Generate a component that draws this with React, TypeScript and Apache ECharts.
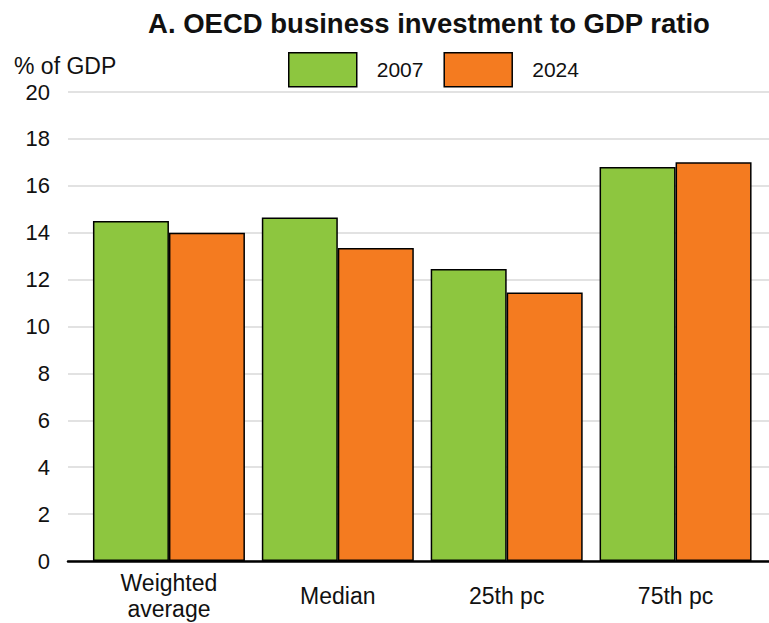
import React, { useEffect, useRef } from "react";
import * as echarts from "echarts";

const categories = ["Weighted\naverage", "Median", "25th pc", "75th pc"];
const series2007 = [14.5, 14.65, 12.45, 16.8];
const series2024 = [14.0, 13.35, 11.45, 17.0];
const seriesNames = ["2007", "2024"];
const yTicks = { min: 0, max: 20, interval: 2 };

const FONT = "'Liberation Sans', Arial, sans-serif";

export default function App() {
  const ref = useRef<HTMLDivElement>(null);
  useEffect(() => {
    if (!ref.current) return;
    const chart = echarts.init(ref.current, null, { renderer: "svg" });
    const top = 92;
    const bottom = 62;
    chart.setOption({
      animation: false,
      backgroundColor: "#ffffff",
      textStyle: { fontFamily: FONT },
      title: [
        {
          text: "A. OECD business investment to GDP ratio",
          left: 424,
          textAlign: "center",
          top: 4,
          textStyle: { fontSize: 27.5, fontWeight: "bold", color: "#111", fontFamily: FONT },
        },
        {
          text: "% of GDP",
          left: 9,
          top: 49,
          textStyle: { fontSize: 23, fontWeight: "normal", color: "#111", fontFamily: FONT },
        },
      ],
      legend: {
        data: seriesNames,
        left: 288,
        top: 52,
        padding: 0,
        itemWidth: 68,
        itemHeight: 34,
        itemGap: 20,
        icon: "rect",
        textStyle: { fontSize: 21, color: "#111", fontFamily: FONT, padding: [0, 0, 0, 15] },
        itemStyle: { borderColor: "#000", borderWidth: 1.5 },
      },
      grid: [
        { left: 68, right: 0, top, bottom },
        { left: 84.5, right: 9, top, bottom },
      ],
      xAxis: [
        {
          type: "category",
          gridIndex: 0,
          data: [""],
          axisLine: { show: true, lineStyle: { color: "#000", width: 2.5 } },
          axisTick: { show: false },
          axisLabel: { show: false },
          splitLine: { show: false },
        },
        {
          type: "category",
          gridIndex: 1,
          data: categories,
          axisLine: { show: false },
          axisTick: { show: false },
          axisLabel: {
            fontSize: 23,
            color: "#111",
            fontFamily: FONT,
            margin: 35,
            verticalAlign: "middle",
            lineHeight: 26,
            interval: 0,
          },
        },
      ],
      yAxis: [
        {
          type: "value",
          gridIndex: 0,
          min: yTicks.min,
          max: yTicks.max,
          interval: yTicks.interval,
          axisLine: { show: false },
          axisTick: { show: false },
          axisLabel: { fontSize: 22, color: "#111", fontFamily: FONT, margin: 18 },
          splitLine: { show: true, lineStyle: { color: "#d9d9d9", width: 1.5 } },
        },
        {
          type: "value",
          gridIndex: 1,
          min: yTicks.min,
          max: yTicks.max,
          interval: yTicks.interval,
          show: false,
          splitLine: { show: false },
        },
      ],
      series: [
        {
          name: seriesNames[0],
          type: "bar",
          xAxisIndex: 1,
          yAxisIndex: 1,
          data: series2007,
          barGap: "0%",
          barCategoryGap: "10%",
          itemStyle: { color: "#8DC63F", borderColor: "#000", borderWidth: 1.5 },
        },
        {
          name: seriesNames[1],
          type: "bar",
          xAxisIndex: 1,
          yAxisIndex: 1,
          data: series2024,
          barGap: "0%",
          barCategoryGap: "10%",
          itemStyle: { color: "#F47B20", borderColor: "#000", borderWidth: 1.5 },
        },
      ],
    });
    return () => chart.dispose();
  }, []);
  return (
    <div
      ref={ref}
      style={{ position: "absolute", left: 0, top: 0, width: 769, height: 623 }}
    />
  );
}
